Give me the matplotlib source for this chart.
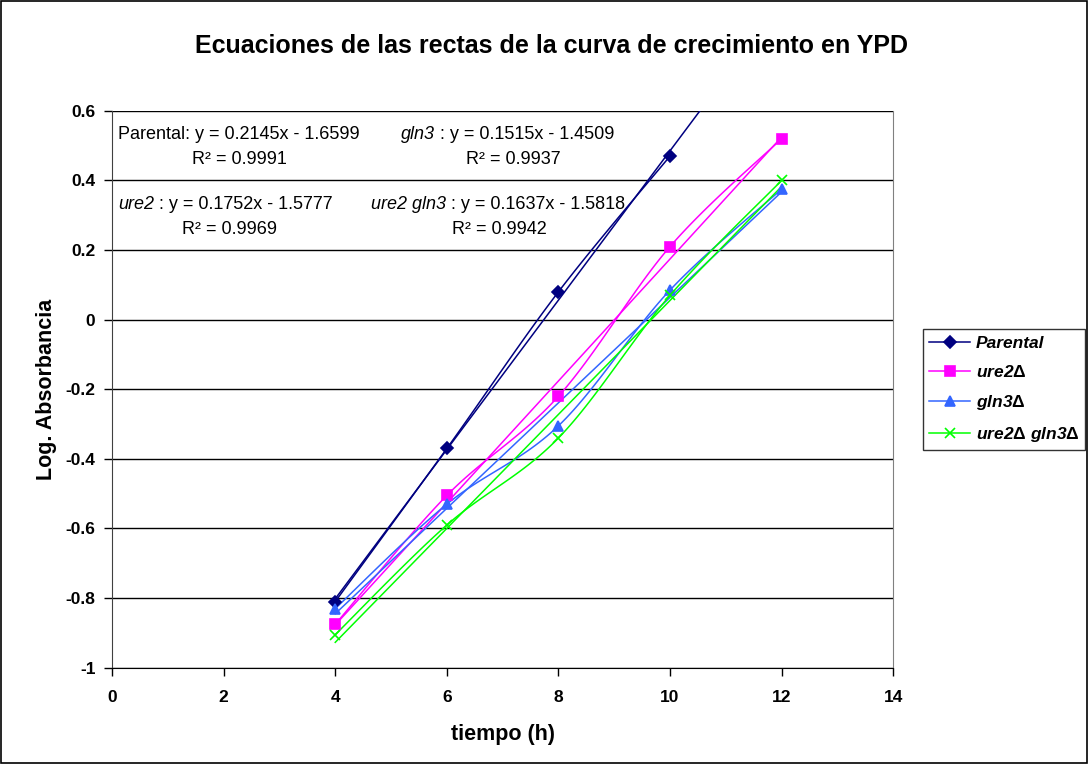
import numpy as np
import matplotlib
matplotlib.use('Agg')
import matplotlib.pyplot as plt
from matplotlib.patches import Rectangle

plt.rcParams['font.family'] = ['Liberation Sans', 'DejaVu Sans']
plt.rcParams['mathtext.fontset'] = 'custom'
plt.rcParams['mathtext.it'] = 'Liberation Sans:italic'
plt.rcParams['mathtext.rm'] = 'Liberation Sans:bold'

# data
t_parental = [4, 6, 8, 10]
y_parental = [-0.81, -0.37, 0.08, 0.47]
t_other = [4, 6, 8, 10, 12]
y_ure2 = [-0.875, -0.505, -0.22, 0.21, 0.52]
y_gln3 = [-0.83, -0.53, -0.305, 0.085, 0.375]
y_ure2gln3 = [-0.905, -0.59, -0.34, 0.07, 0.40]

# trendline coefficients (slope, intercept) as printed on the chart
fit_parental = (0.2145, -1.6599)
fit_ure2 = (0.1752, -1.5777)
fit_gln3 = (0.1515, -1.4509)
fit_ure2gln3 = (0.1637, -1.5818)

labels = ['Parental', r'ure2$\Delta$', r'gln3$\Delta$', r'ure2$\Delta$ gln3$\Delta$']
colors = ['#000080', '#FF00FF', '#3366FF', '#00FF00']
markers = ['D', 's', '^', 'x']


def smooth(xs, ys, n=30):
    # excel style smoothed line: cubic bezier, catmull-rom control points
    p = np.column_stack([xs, ys]).astype(float)
    pts = [p[0]]
    for i in range(len(p) - 1):
        p0 = p[i - 1] if i > 0 else p[i]
        p1, p2 = p[i], p[i + 1]
        p3 = p[i + 2] if i + 2 < len(p) else p[i + 1]
        c1 = p1 + (p2 - p0) / 6.0
        c2 = p2 - (p3 - p1) / 6.0
        s = np.linspace(0, 1, n)[1:, None]
        seg = ((1 - s) ** 3) * p1 + 3 * ((1 - s) ** 2) * s * c1 + 3 * (1 - s) * s ** 2 * c2 + s ** 3 * p2
        pts.extend(seg)
    pts = np.array(pts)
    return pts[:, 0], pts[:, 1]


def equation(ax, x, y, italic, rest, fs):
    # italic strain name followed by the regular equation text
    if italic:
        t1 = ax.text(x, y, italic, fontsize=fs, style='italic', va='center')
        ax.annotate(rest, xy=(1, 0.5), xycoords=t1, fontsize=fs, va='center', ha='left')
    else:
        ax.text(x, y, rest, fontsize=fs, va='center')


fig = plt.figure(figsize=(10.88, 7.64), dpi=100)
ax = fig.add_axes([0.103, 0.126, 0.718, 0.729])

series = [(t_parental, y_parental, fit_parental),
          (t_other, y_ure2, fit_ure2),
          (t_other, y_gln3, fit_gln3),
          (t_other, y_ure2gln3, fit_ure2gln3)]

for (xs, ys, fit), lab, c, m in zip(series, labels, colors, markers):
    sx, sy = smooth(xs, ys)
    ax.plot(sx, sy, color=c, lw=1.1, zorder=3)
    ms = 6.5 if m == 'D' else 7
    ax.plot(xs, ys, linestyle='none', marker=m, color=c, ms=ms, mew=1.2, zorder=4)
    ax.plot([], [], color=c, lw=1.1, marker=m, ms=ms, mew=1.2, label=lab)
    tx = np.array([4, 12])
    ax.plot(tx, fit[0] * tx + fit[1], color=c, lw=1.1, zorder=3)

ax.set_xlim(0, 14)
ax.set_ylim(-1, 0.6)
ax.set_xticks(np.arange(0, 15, 2))
ax.set_yticks(np.round(np.arange(-1, 0.61, 0.2), 1))
ax.set_yticklabels(['-1', '-0.8', '-0.6', '-0.4', '-0.2', '0', '0.2', '0.4', '0.6'])
ax.yaxis.grid(True, color='black', lw=1)
ax.set_axisbelow(True)
ax.tick_params(direction='out', length=6, width=1, labelsize=12.5)
ax.tick_params(axis='x', pad=10)
ax.tick_params(axis='y', pad=6)
for lbl in ax.get_xticklabels() + ax.get_yticklabels():
    lbl.set_fontweight('bold')
ax.spines['top'].set_visible(False)
ax.spines['right'].set_color('#808080')
ax.spines['left'].set_color('#404040')
ax.spines['bottom'].set_color('black')

ax.set_xlabel('tiempo (h)', fontsize=15.5, fontweight='bold', labelpad=14)
ax.set_ylabel('Log. Absorbancia', fontsize=15.5, fontweight='bold', labelpad=6)
fig.text(0.507, 0.94, 'Ecuaciones de las rectas de la curva de crecimiento en YPD',
         ha='center', va='center', fontsize=18, fontweight='bold')

# trendline equations
fs = 13
equation(ax, 0.11, 0.532, None, 'Parental: y = 0.2145x - 1.6599', fs)
ax.text(2.28, 0.461, 'R² = 0.9991', fontsize=fs, va='center', ha='center')
equation(ax, 0.11, 0.331, 'ure2', ' : y = 0.1752x - 1.5777', fs)
ax.text(2.10, 0.260, 'R² = 0.9969', fontsize=fs, va='center', ha='center')
equation(ax, 5.18, 0.532, 'gln3', ' : y = 0.1515x - 1.4509', fs)
ax.text(7.19, 0.461, 'R² = 0.9937', fontsize=fs, va='center', ha='center')
equation(ax, 4.64, 0.331, 'ure2 gln3', ' : y = 0.1637x - 1.5818', fs)
ax.text(6.94, 0.260, 'R² = 0.9942', fontsize=fs, va='center', ha='center')

leg = ax.legend(loc='center left', bbox_to_anchor=(0.848, 0.490), bbox_transform=fig.transFigure,
                frameon=True, fancybox=False, edgecolor='black', handlelength=2.4,
                prop={'weight': 'bold', 'style': 'italic', 'size': 12.5}, labelspacing=0.75,
                borderpad=0.35, handletextpad=0.3, borderaxespad=0)
leg.get_frame().set_linewidth(1)

fig.patches.append(Rectangle((0.001, 0.001), 0.998, 0.998, transform=fig.transFigure,
                             fill=False, edgecolor='black', lw=1.2))

plt.savefig('out.png', dpi=100)
